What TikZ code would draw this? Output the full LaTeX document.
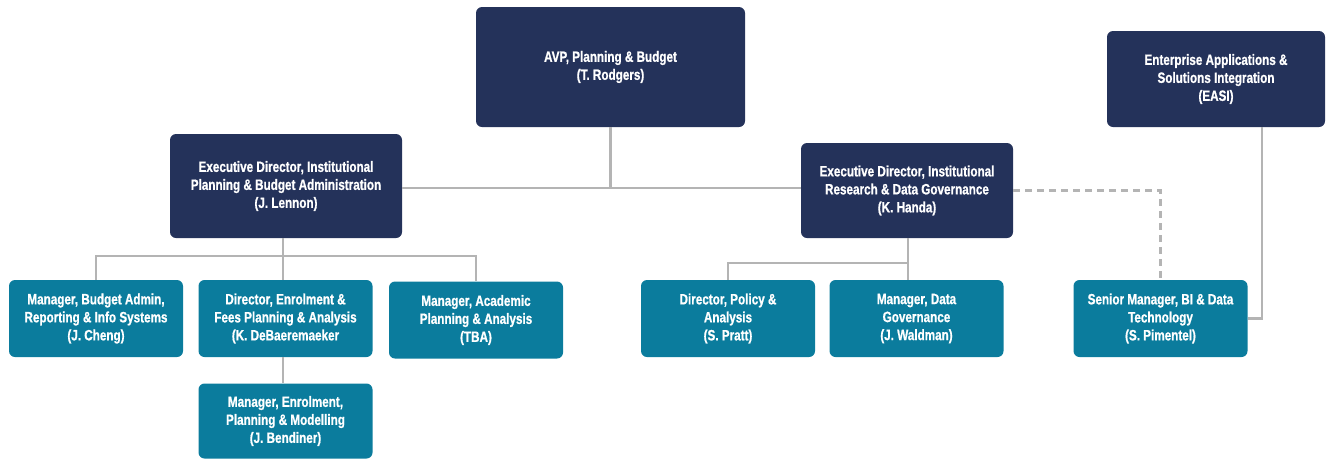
\documentclass[tikz,border=0pt]{standalone}
\usepackage{fontspec}
\setmainfont{Liberation Sans}[FakeStretch=0.78, BoldFeatures={FakeBold=0.8}]
\usetikzlibrary{positioning}
\usepackage{xcolor}

\definecolor{boxnavy}{HTML}{24325A}
\definecolor{boxteal}{HTML}{0B7C9D}
\definecolor{linkgray}{HTML}{B4B4B4}

\begin{document}
\begin{tikzpicture}[x=1pt, y=-1pt,
    unit/.style={rounded corners=6pt, inner sep=0pt, align=center, text=white,
                 font=\fontsize{15}{18}\selectfont\bfseries},
    head/.style={unit, fill=boxnavy},
    team/.style={unit, fill=boxteal, minimum width=174pt, minimum height=77pt},
    link/.style={draw=linkgray, line width=2.2pt},
    dotted link/.style={link, dash pattern=on 7pt off 5pt}]
  \useasboundingbox (0,0) rectangle (1326,459);

  % top level
  \node[head, minimum width=269pt, minimum height=120pt] (avp) at (610.5,67)
    {AVP, Planning \& Budget\\(T. Rodgers)};
  \node[head, minimum width=218pt, minimum height=96pt] (easi) at (1216,79)
    {Enterprise Applications \&\\Solutions Integration\\(EASI)};

  % executive directors
  \node[head, minimum width=232pt, minimum height=104pt] (lennon) at (286,186)
    {Executive Director, Institutional\\Planning \& Budget Administration\\(J. Lennon)};
  \node[head, minimum width=212pt, minimum height=95pt] (handa) at (907,190.5)
    {Executive Director, Institutional\\Research \& Data Governance\\(K. Handa)};

  % planning & budget teams
  \node[team] (cheng) at (96,318.5)
    {Manager, Budget Admin,\\Reporting \& Info Systems\\(J. Cheng)};
  \node[team] (debaer) at (285.5,318.5)
    {Director, Enrolment \&\\Fees Planning \& Analysis\\(K. DeBaeremaeker};
  \node[team] (tba) at (476,320)
    {Manager, Academic\\Planning \& Analysis\\(TBA)};
  \node[team, minimum height=75pt] (bendiner) at (285.5,421)
    {Manager, Enrolment,\\Planning \& Modelling\\(J. Bendiner)};

  % research & governance teams
  \node[team] (pratt) at (728,318.5)
    {Director, Policy \&\\Analysis\\(S. Pratt)};
  \node[team] (waldman) at (916.5,318.5)
    {Manager, Data\\Governance\\(J. Waldman)};
  \node[team] (pimentel) at (1160.5,318.5)
    {Senior Manager, BI \& Data\\Technology\\(S. Pimentel)};

  % reporting lines
  \coordinate (topbus) at (610.5,188);
  \coordinate (pbabus) at (283,256);
  \coordinate (irbus) at (908,263);
  \draw[link] (avp.south) -- (topbus);
  \draw[link] (lennon.east |- topbus) -- (handa.west |- topbus);

  \draw[link] (lennon.south -| pbabus) -- (debaer.north -| pbabus);
  \draw[link] (cheng.north) |- (pbabus) -| (tba.north);
  \draw[link] (debaer.south -| pbabus) -- (bendiner.north -| pbabus);

  \draw[link] (handa.south -| irbus) -- (waldman.north -| irbus);
  \draw[link] (pratt.north) |- (irbus);

  \draw[dotted link] (handa.east) -| (pimentel.north);
  \draw[link] ([xshift=46pt]easi.south) |- (pimentel.east);
\end{tikzpicture}
\end{document}
